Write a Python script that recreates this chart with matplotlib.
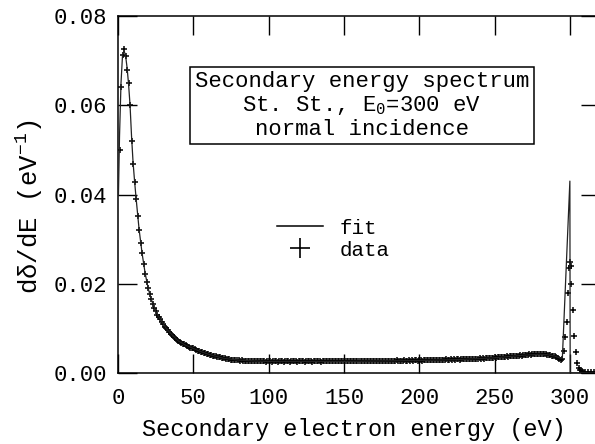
import matplotlib
matplotlib.use("Agg")
import matplotlib.pyplot as plt
from matplotlib.lines import Line2D

plt.rcParams['font.family'] = ['Liberation Mono', 'DejaVu Sans Mono']
plt.rcParams['mathtext.fontset'] = 'custom'
plt.rcParams['mathtext.rm'] = 'Liberation Mono'
plt.rcParams['mathtext.it'] = 'Liberation Mono'

# ---- data ----
# measured spectrum, 1 eV grid from 1 to 290 eV, then the elastic peak region
data_e = list(range(1, 291)) + [291, 292, 293, 294, 295, 296, 297, 298, 299, 299.5, 300,
                                 300.5, 301, 302, 303, 304, 305, 306, 307, 308, 309, 310,
                                 312, 314, 316, 318, 320]
data_v = [
    0.0500, 0.0640, 0.0712, 0.0725, 0.0710, 0.0680, 0.0650, 0.0600, 0.0520, 0.0468,
    0.0428, 0.0390, 0.0352, 0.0320, 0.0292, 0.0268, 0.0245, 0.0222, 0.0204, 0.0190,
    0.0176, 0.0166, 0.0155, 0.0146, 0.0138, 0.0131, 0.0126, 0.0121, 0.0115, 0.0110,
    0.0104, 0.0100, 0.0096, 0.0092, 0.0088, 0.0085, 0.0081, 0.0078, 0.0075, 0.0072,
    0.0070, 0.0068, 0.0066, 0.0064, 0.0062, 0.0060, 0.0059, 0.0057, 0.0056, 0.0055,
    0.0053, 0.0052, 0.0050, 0.0049, 0.0047, 0.0046, 0.0045, 0.0044, 0.0043, 0.0042,
    0.0041, 0.0040, 0.0039, 0.0038, 0.0037, 0.0036, 0.0035, 0.0035, 0.0034, 0.0033,
    0.0033, 0.0032, 0.0031, 0.0031, 0.0030, 0.0030, 0.0030, 0.0029, 0.0029, 0.0029,
    0.0028, 0.0029, 0.0028, 0.0028, 0.0027, 0.0028, 0.0027, 0.0027, 0.0028, 0.0026,
    0.0027, 0.0027, 0.0026, 0.0027, 0.0026, 0.0026, 0.0027, 0.0025, 0.0026, 0.0027,
    0.0026, 0.0025, 0.0026, 0.0027, 0.0026, 0.0025, 0.0026, 0.0026, 0.0027, 0.0025,
    0.0026, 0.0027, 0.0026, 0.0025, 0.0026, 0.0026, 0.0027, 0.0026, 0.0025, 0.0026,
    0.0027, 0.0026, 0.0026, 0.0025, 0.0026, 0.0027, 0.0026, 0.0026, 0.0025, 0.0027,
    0.0026, 0.0026, 0.0027, 0.0026, 0.0025, 0.0026, 0.0027, 0.0026, 0.0026, 0.0027,
    0.0026, 0.0027, 0.0026, 0.0026, 0.0027, 0.0026, 0.0027, 0.0026, 0.0026, 0.0027,
    0.0027, 0.0026, 0.0027, 0.0026, 0.0027, 0.0027, 0.0026, 0.0027, 0.0027, 0.0026,
    0.0027, 0.0027, 0.0028, 0.0026, 0.0027, 0.0027, 0.0028, 0.0027, 0.0026, 0.0027,
    0.0028, 0.0027, 0.0027, 0.0028, 0.0027, 0.0028, 0.0027, 0.0028, 0.0028, 0.0027,
    0.0028, 0.0028, 0.0027, 0.0028, 0.0029, 0.0028, 0.0028, 0.0027, 0.0028, 0.0029,
    0.0028, 0.0028, 0.0029, 0.0028, 0.0029, 0.0028, 0.0029, 0.0029, 0.0028, 0.0029,
    0.0029, 0.0028, 0.0029, 0.0029, 0.0030, 0.0029, 0.0029, 0.0030, 0.0029, 0.0029,
    0.0030, 0.0029, 0.0030, 0.0030, 0.0029, 0.0030, 0.0030, 0.0031, 0.0030, 0.0030,
    0.0031, 0.0030, 0.0031, 0.0030, 0.0031, 0.0031, 0.0030, 0.0031, 0.0031, 0.0032,
    0.0031, 0.0031, 0.0032, 0.0031, 0.0032, 0.0032, 0.0031, 0.0032, 0.0032, 0.0033,
    0.0032, 0.0033, 0.0032, 0.0033, 0.0033, 0.0034, 0.0033, 0.0034, 0.0034, 0.0035,
    0.0034, 0.0035, 0.0035, 0.0036, 0.0035, 0.0036, 0.0036, 0.0037, 0.0036, 0.0037,
    0.0037, 0.0038, 0.0038, 0.0039, 0.0038, 0.0039, 0.0040, 0.0039, 0.0040, 0.0041,
    0.0040, 0.0041, 0.0042, 0.0041, 0.0042, 0.0043, 0.0042, 0.0043, 0.0042, 0.0043,
    0.0042, 0.0043, 0.0042, 0.0042, 0.0041, 0.0041, 0.0040, 0.0039, 0.0038, 0.0037,
    # 291 .. 320
    0.0035, 0.0033, 0.0031, 0.0029, 0.0032, 0.0050, 0.0080, 0.0115, 0.0180, 0.0235,
    0.0248, 0.0240, 0.0200, 0.0141, 0.0083, 0.0048, 0.0022, 0.0011, 0.0006, 0.0004,
    0.0003, 0.0003, 0.0002, 0.0002, 0.0002, 0.0002, 0.0002]

fit_e = [0.3, 1, 2, 3, 4, 5, 6, 7, 8, 9, 10, 11, 12, 14, 16, 18, 20, 22, 25, 28, 32, 36,
         40, 45, 50, 55, 60, 70, 80, 90, 100, 125, 150, 175, 200, 225, 250, 260, 270, 280,
         285, 290, 293, 295, 300, 300.2, 320]
fit_v = [0.0400, 0.0530, 0.0650, 0.0712, 0.0722, 0.0712, 0.0685, 0.0648, 0.0600, 0.0530,
         0.0472, 0.0430, 0.0392, 0.0322, 0.0268, 0.0224, 0.0190, 0.0166, 0.0138, 0.0121,
         0.0100, 0.0085, 0.0072, 0.0062, 0.0055, 0.0048, 0.0042, 0.0033, 0.0029, 0.0027,
         0.0026, 0.0026, 0.0026, 0.0027, 0.0028, 0.0030, 0.0034, 0.0037, 0.0040, 0.0042,
         0.0041, 0.0038, 0.0034, 0.0033, 0.0430, 0.0, 0.0]

x_ticks = [0, 50, 100, 150, 200, 250, 300]
y_ticks = [0.00, 0.02, 0.04, 0.06, 0.08]
y_tick_labels = ['0.00', '0.02', '0.04', '0.06', '0.08']

fig = plt.figure(figsize=(5.95, 4.44), dpi=100)
ax = fig.add_axes([118 / 595, 1 - 373 / 444, 482 / 595, 357 / 444])

ax.plot(fit_e, fit_v, color='#222222', lw=0.9, label='fit', zorder=3)
ax.plot(data_e, data_v, linestyle='none', marker='+', markersize=5, mew=1.1,
        color='black', label='data', zorder=2)

ax.set_xlim(0, 320)
ax.set_ylim(0, 0.08)
ax.set_xticks(x_ticks)
ax.set_yticks(y_ticks)
ax.set_yticklabels(y_tick_labels)
ax.tick_params(direction='in', length=13.5, width=1.0, labelsize=16,
               top=True, right=True)
ax.tick_params(axis='x', pad=11)
ax.tick_params(axis='y', pad=8)
for s in ax.spines.values():
    s.set_linewidth(1.1)

ax.set_xlabel('Secondary electron energy (eV)', fontsize=17, labelpad=6)
ax.xaxis.label.set_x(0.49)
ax.set_ylabel('d\u03b4/dE (eV$^{-1}$)', fontsize=18.5, labelpad=6)
ax.yaxis.label.set_y(0.465)

ax.text(0.506, 0.7496, 'Secondary energy spectrum\nSt. St., E$_0$=300 eV\nnormal incidence',
        transform=ax.transAxes, fontsize=16, ha='center', va='center',
        linespacing=1.1, multialignment='center',
        bbox=dict(boxstyle='square,pad=0.2', fc='white', ec='black', lw=1.1))

handles = [Line2D([], [], color='black', lw=1.1),
           Line2D([], [], linestyle='none', marker='+', markersize=14, mew=1.2, color='black')]
ax.legend(handles, ['fit', 'data'], loc='center left', bbox_to_anchor=(0.291, 0.375),
          frameon=False, fontsize=15, handlelength=2.2, handletextpad=0.8,
          labelspacing=0.15)

fig.savefig('out.png', dpi=100)
